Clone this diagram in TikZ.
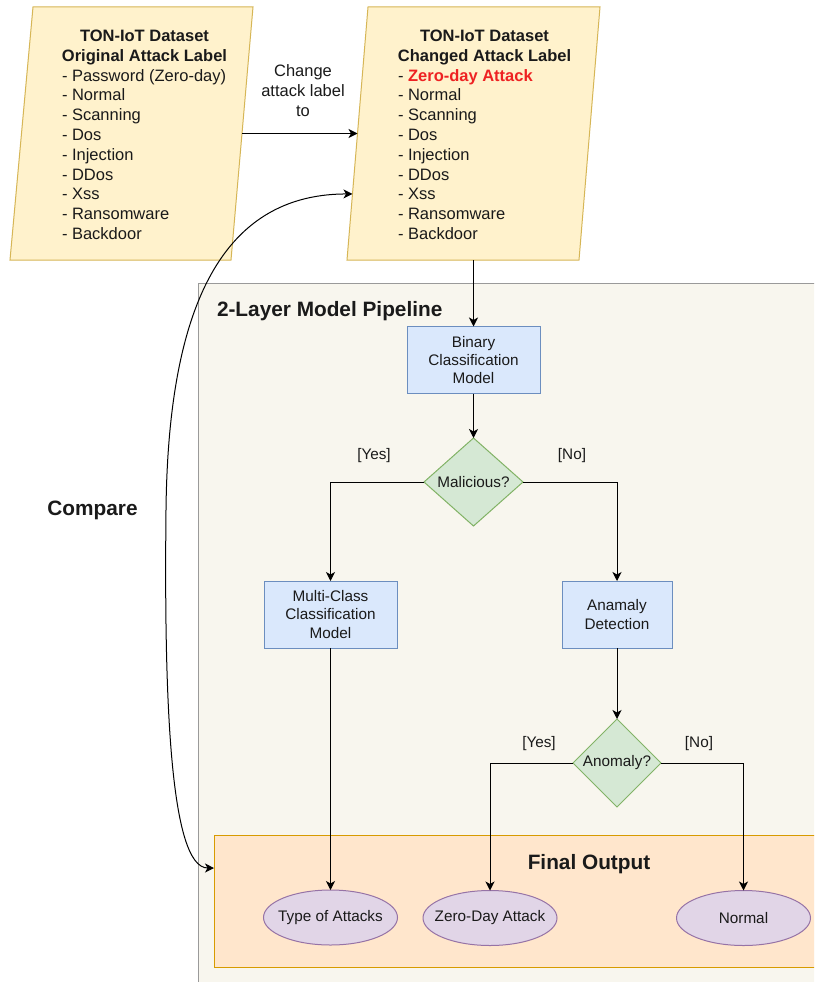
\documentclass[tikz,border=0pt]{standalone}
\usepackage{fontspec}
\setmainfont{Liberation Sans}
\usetikzlibrary{shapes.geometric,arrows.meta,calc}

\definecolor{ioFill}{HTML}{FFF2CC}
\definecolor{ioLine}{HTML}{D6B656}
\definecolor{pipeFill}{HTML}{F8F6EE}
\definecolor{pipeLine}{HTML}{9A9A9A}
\definecolor{procFill}{HTML}{DAE8FC}
\definecolor{procLine}{HTML}{6C8EBF}
\definecolor{decFill}{HTML}{D5E8D4}
\definecolor{decLine}{HTML}{82B366}
\definecolor{termFill}{HTML}{E1D5E7}
\definecolor{termLine}{HTML}{9673A6}
\definecolor{outFill}{HTML}{FFE6CC}
\definecolor{outLine}{HTML}{D79B00}
\definecolor{alertRed}{HTML}{EE2222}
\definecolor{ink}{HTML}{1A1A1A}

\begin{document}
\begin{tikzpicture}[x=1pt,y=-1pt,
  every node/.style={text=ink, inner sep=0pt, outer sep=0pt},
  body/.style={font=\fontsize{16.5}{19.8}\selectfont},
  bodybold/.style={font=\fontsize{16.5}{19.8}\selectfont\bfseries},
  small/.style={font=\fontsize{15.3}{18.4}\selectfont},
  heading/.style={font=\fontsize{20.8}{25}\selectfont\bfseries},
  iobox/.style={fill=ioFill, draw=ioLine, line width=1pt},
  procbox/.style={rectangle, fill=procFill, draw=procLine, line width=1pt,
                  align=center, small, minimum height=67pt},
  decbox/.style={diamond, fill=decFill, draw=decLine, line width=1pt},
  termbox/.style={ellipse, fill=termFill, draw=termLine, line width=1pt,
                  minimum width=134pt, minimum height=55pt},
  arr/.style={draw=black, line width=1pt,
              -{Stealth[length=9pt,width=9pt,inset=2.5pt]}},
  biarr/.style={draw=black, line width=1pt,
              {Stealth[length=9pt,width=9pt,inset=2.5pt]}-{Stealth[length=9pt,width=9pt,inset=2.5pt]}},
]
\useasboundingbox (0,0) rectangle (814,982);
\fill[white] (0,0) rectangle (814,982);
\clip (0,0) rectangle (814,982);

% ---------- pipeline container and output band ----------
\node[rectangle, fill=pipeFill, draw=pipeLine, line width=1pt,
      minimum width=700pt, minimum height=800pt, anchor=north west] (pipe) at (198,283) {};
\node[heading, anchor=base west] (pipeTitle) at (217,316.5) {2-Layer Model Pipeline};

\node[rectangle, fill=outFill, draw=outLine, line width=1pt,
      minimum width=700pt, minimum height=132pt, anchor=north west] (out) at (214,835) {};
\node[heading, anchor=base] (outTitle) at (589,869.5) {Final Output};

% ---------- input data sets ----------
\coordinate (oBL) at (10,260);  \coordinate (oBR) at (231,260);
\coordinate (oTR) at (253,7);   \coordinate (oTL) at (33,7);
\path[iobox] (oBL) -- (oBR) -- (oTR) -- (oTL) -- cycle;

\coordinate (cBL) at (347,260); \coordinate (cBR) at (579,260);
\coordinate (cTR) at (600,7);   \coordinate (cTL) at (368,7);
\path[iobox] (cBL) -- (cBR) -- (cTR) -- (cTL) -- cycle;

% multi-line nodes: the base anchor sits on the last line
\node[bodybold, align=center, anchor=base] (origTitle) at (144.5,61.3)
  {TON-IoT Dataset\\Original Attack Label};
\node[body, align=left, anchor=base west] (origList) at (62,239.5)
  {- Password (Zero-day)\\- Normal\\- Scanning\\- Dos\\- Injection\\- DDos\\- Xss\\- Ransomware\\- Backdoor};

\node[bodybold, align=center, anchor=base] (chgTitle) at (484.5,61.3)
  {TON-IoT Dataset\\Changed Attack Label};
\node[body, align=left, anchor=base west] (chgList) at (398,239.5)
  {- {\bfseries\color{alertRed}Zero-day Attack}\\- Normal\\- Scanning\\- Dos\\- Injection\\- DDos\\- Xss\\- Ransomware\\- Backdoor};

\coordinate (origOut) at ($(oBR)!0.5!(oTR)$);
\coordinate (chgIn)   at ($(cBL)!0.5!(cTL)$);
\coordinate (chgCmp)  at ($(cTL)!0.739!(cBL)$);
\coordinate (outCmp)  at ($(out.north west)+(0,33)$);

\draw[arr] (origOut) -- (chgIn);
\node[body, align=center, anchor=base] (chgLabel) at (303,116.2)
  {Change\\attack label\\to};

\node[heading, anchor=base] (cmpLabel) at (92.5,515) {Compare};

% ---------- model pipeline ----------
\node[procbox, minimum width=133pt] (bin) at (473.5,360) {Binary\\Classification\\Model};
\node[decbox, minimum width=99pt, minimum height=88pt,
      label={[small]center:Malicious?}] (mal) at (473.5,482) {};
\node[procbox, minimum width=133pt] (multi) at (330.5,614.5) {Multi-Class\\Classification\\Model};
\node[procbox, minimum width=110pt] (anom) at (617,614.5) {Anamaly\\Detection};
\node[decbox, minimum width=88pt, minimum height=88pt,
      label={[small]center:Anomaly?}] (isAnom) at (617,763) {};

\node[termbox, label={[small]center:Type of Attacks}] (types) at (330.5,917.5) {};
\node[termbox, label={[small]center:Zero-Day Attack}] (zday) at (490,918) {};
\node[termbox, label={[small]center:Normal}] (normal) at (743.5,918) {};

\node[small, anchor=base] (malYes) at (374,459) {[Yes]};
\node[small, anchor=base] (malNo)  at (572,459) {[No]};
\node[small, anchor=base] (anYes)  at (539,747) {[Yes]};
\node[small, anchor=base] (anNo)   at (699,747) {[No]};

% ---------- connectors ----------
\draw[arr] (bin.north |- cBL) -- (bin.north);
\draw[arr] (bin.south) -- (mal.north);
\draw[arr] (mal.west) -| (multi.north);
\draw[arr] (mal.east) -| (anom.north);
\draw[arr] (anom.south) -- (isAnom.north);
\draw[arr] (isAnom.west) -| (zday.north);
\draw[arr] (isAnom.east) -| (normal.north);
\draw[arr] (multi.south) -- (types.north);

\draw[biarr] (outCmp) .. controls (170,868) and (164,700) .. (166,510)
             .. controls (168,330) and (210,194) .. (chgCmp);
\end{tikzpicture}
\end{document}
